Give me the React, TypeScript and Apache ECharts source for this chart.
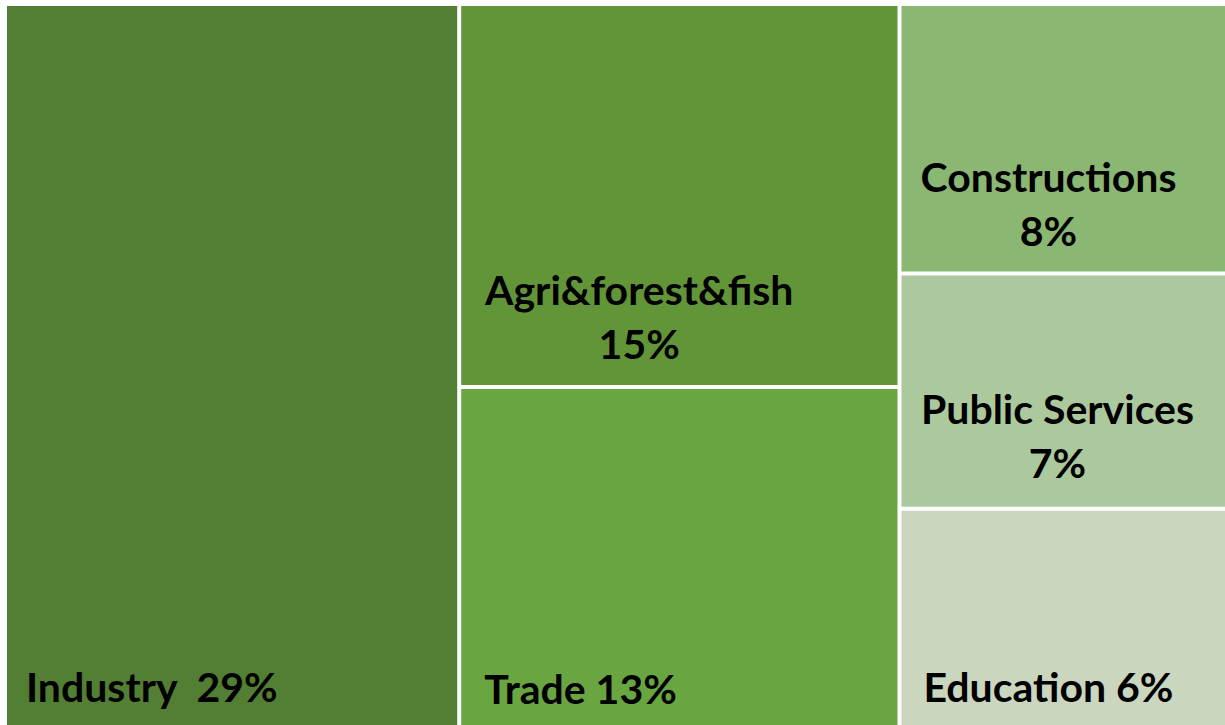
import React, { useEffect, useRef } from "react";
import * as echarts from "echarts";

const categories = ["Industry", "Agri&forest&fish", "Trade", "Constructions", "Public Services", "Education"];
const values = [29.4, 15.1, 13.4, 7.9, 6.9, 6.4];
const colors = ["#527F33", "#629538", "#69A540", "#8AB772", "#ABC99C", "#CBD6BE"];

// label placement / style per cell (style only)
const labelStyles: any[] = [
  { position: [14, 680], align: "left", sep: "  " },
  { position: [178, 310], align: "center", sep: "\n" },
  { position: [18, 299], align: "left", sep: " " },
  { position: [147, 197], align: "center", sep: "\n" },
  { position: [156, 160], align: "center", sep: "\n" },
  { position: [17, 176], align: "left", sep: " " },
];

export default function App() {
  const ref = useRef<HTMLDivElement>(null);
  useEffect(() => {
    if (!ref.current) return;
    const chart = echarts.init(ref.current, undefined, { renderer: "svg" });
    const data = categories.map((name, i) => {
      const ls = labelStyles[i];
      return {
        name,
        value: values[i],
        itemStyle: { color: colors[i] },
        label: {
          show: true,
          position: ls.position,
          align: ls.align,
          verticalAlign: "middle",
          formatter: (p: any) => `${p.name}${ls.sep}${Math.round(p.value)}%`,
        },
      };
    });
    chart.setOption({
      animation: false,
      backgroundColor: "#ffffff",
      series: [
        {
          type: "treemap",
          left: 7,
          top: 6,
          right: 0,
          bottom: 0,
          squareRatio: 1,
          roam: false,
          nodeClick: false,
          breadcrumb: { show: false },
          itemStyle: { gapWidth: 4, borderWidth: 0, borderColor: "#ffffff" },
          label: {
            show: true,
            color: "#000000",
            fontFamily: "Lato",
            fontWeight: "bold",
            fontSize: 41,
            lineHeight: 54,
            overflow: "none",
          },
          emphasis: { disabled: true },
          data,
        },
      ],
    });
    return () => chart.dispose();
  }, []);
  return (
    <div
      ref={ref}
      style={{ position: "absolute", left: 0, top: 0, width: 1225, height: 725 }}
    />
  );
}
